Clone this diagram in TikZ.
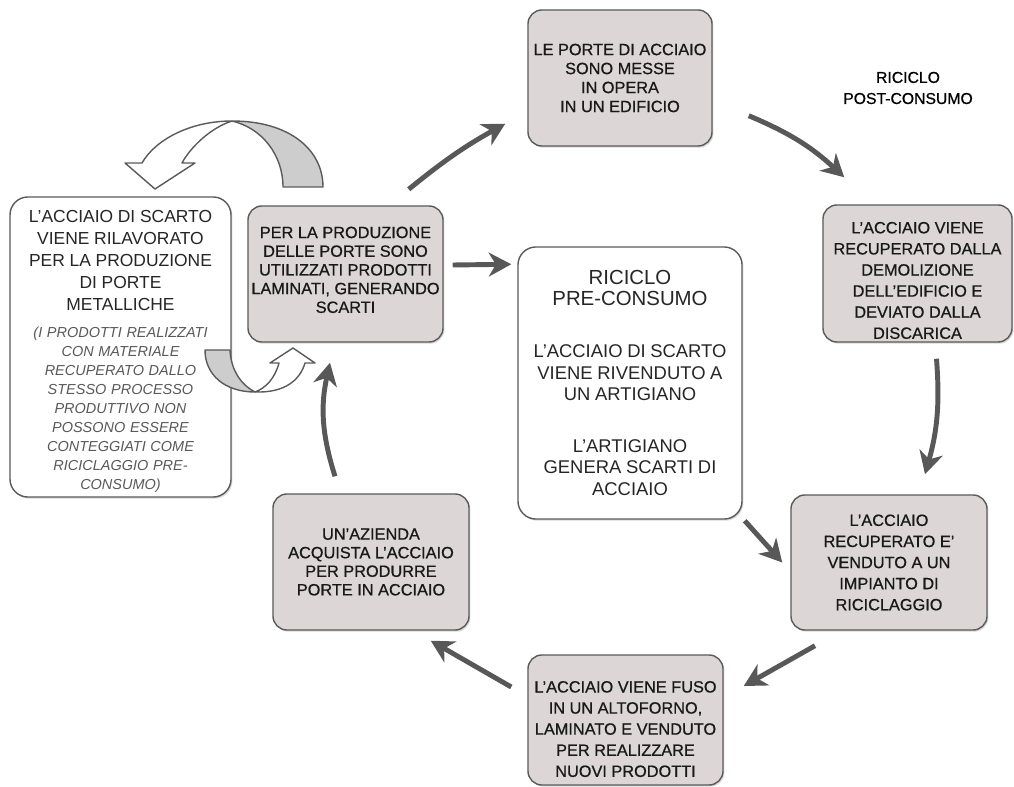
\documentclass[tikz,border=0pt]{standalone}
\usepackage{fontspec}
\setmainfont{Liberation Sans}
\newfontfamily\stepfont{Liberation Sans}[FakeBold=0.7]
\newcommand{\stepsize}[2]{\stepfont\fontsize{#1}{#2}\selectfont}
\usetikzlibrary{arrows.meta, calc, shadows}
\definecolor{boxgray}{RGB}{220,214,214}
\definecolor{edgegray}{RGB}{90,90,90}
\definecolor{arrowgray}{RGB}{88,88,88}
\definecolor{bandgray}{RGB}{205,205,205}

\begin{document}
\begin{tikzpicture}[x=0.025cm, y=-0.025cm,
    stepbox/.style={draw=edgegray, line width=1pt, fill=boxgray, rounded corners=0.35cm,
      inner sep=0pt, align=center, text=black!90,
      drop shadow={shadow xshift=1pt, shadow yshift=-1.2pt, opacity=0.3}},
    notebox/.style={draw=edgegray, line width=1pt, fill=white, rounded corners=0.45cm,
      inner sep=0pt, align=center, text=black!85,
      drop shadow={shadow xshift=1pt, shadow yshift=-1.2pt, opacity=0.3}},
    flow/.style={draw=arrowgray, line width=3.5pt, -{Stealth[length=16pt, width=17pt, inset=5pt]}},
    band/.style={draw=edgegray, line width=1pt, line join=round}]
    \useasboundingbox (0,0) rectangle (1014,787);

    % Cycle boxes
    \node[stepbox, minimum width=4.6cm, minimum height=3.4cm, font=\stepsize{11.6}{13.5}]
      (porte) at (620,78) {LE PORTE DI ACCIAIO\\SONO MESSE\\IN OPERA\\IN UN EDIFICIO};
    \node[stepbox, minimum width=4.725cm, minimum height=3.425cm, font=\stepsize{11.6}{15}]
      (demol) at (917.5,273.5) {\rule{0pt}{18pt}L’ACCIAIO VIENE\\RECUPERATO DALLA\\DEMOLIZIONE\\DELL’EDIFICIO E\\DEVIATO DALLA\\DISCARICA};
    \node[stepbox, minimum width=4.9cm, minimum height=3.375cm, font=\stepsize{11.6}{15}]
      (impianto) at (889,562.5) {L’ACCIAIO\\RECUPERATO E’\\VENDUTO A UN\\IMPIANTO DI\\RICICLAGGIO};
    \node[stepbox, minimum width=4.875cm, minimum height=3.25cm, font=\stepsize{11.6}{15}]
      (fuso) at (625.5,720) {\rule{0pt}{21pt}L’ACCIAIO VIENE FUSO\\IN UN ALTOFORNO,\\LAMINATO E VENDUTO\\PER REALIZZARE\\NUOVI PRODOTTI};
    \node[stepbox, minimum width=4.9cm, minimum height=3.4cm, font=\stepsize{11.6}{13.2}]
      (azienda) at (371,562) {UN’AZIENDA\\ACQUISTA L’ACCIAIO\\PER PRODURRE\\PORTE IN ACCIAIO};
    \node[stepbox, minimum width=4.875cm, minimum height=3.4cm, font=\stepsize{11.6}{13.3}]
      (prod) at (345.5,274) {PER LA PRODUZIONE\\DELLE PORTE SONO\\UTILIZZATI PRODOTTI\\LAMINATI, GENERANDO\\SCARTI\rule[-6pt]{0pt}{0pt}};

    % White boxes
    \node[notebox, minimum width=5.525cm, minimum height=7.5cm, text width=5.4cm] (scarto) at (120.5,347)
      {\fontsize{12.4}{15.6}\selectfont\rule{0pt}{15pt}L’ACCIAIO DI SCARTO\\VIENE RILAVORATO\\PER LA PRODUZIONE\\DI PORTE\\METALLICHE\par
       \vspace{5.5pt}
       \fontsize{10.3}{13.5}\selectfont\itshape\color{black!65}(I PRODOTTI REALIZZATI\\CON MATERIALE\\RECUPERATO DALLO\\STESSO PROCESSO\\PRODUTTIVO NON\\POSSONO ESSERE\\CONTEGGIATI COME\\RICICLAGGIO PRE-\\CONSUMO)\par};
    \node[notebox, minimum width=5.6cm, minimum height=6.8cm, text width=5.4cm] (pre) at (630,383)
      {\fontsize{14.5}{15}\selectfont RICICLO\\PRE-CONSUMO\par
       \vspace{21.7pt}
       \fontsize{13.1}{15.3}\selectfont L’ACCIAIO DI SCARTO\\VIENE RIVENDUTO A\\UN ARTIGIANO\par
       \vspace{21.5pt}
       L’ARTIGIANO\\GENERA SCARTI DI\\ACCIAIO\par};

    \node[align=center, font=\stepsize{11.2}{15}] (post) at (908,88) {RICICLO\\POST-CONSUMO};

    % Cycle arrows
    \draw[flow] ($(prod.north east)+(-35,-16)$) to[bend left=5] ($(porte.south west)+(-22,-23)$);
    \draw[flow] ($(porte.south east)+(36,-31)$) to[bend left=10] ($(demol.north west)+(22,-27)$);
    \draw[flow] ($(demol.south)+(19,16)$) to[bend left=10] ($(impianto.north)+(36,-20)$);
    \draw[flow] ($(pre.south east)+(2,1)$) -- ($(impianto.west)+(-8,0)$);
    \draw[flow] ($(impianto.south)+(-74,15)$) -- ($(fuso.east)+(20,-34)$);
    \draw[flow] ($(fuso.west)+(-16,-33)$) -- ($(azienda.south east)+(-39,10)$);
    \draw[flow] ($(azienda.north)+(-36,-17)$) to[bend left=15] ($(prod.south)+(-15.5,20)$);
    \draw[flow] ($(prod.east)+(9,-9)$) -- ($(pre.north west)+(-6,18)$);

    % Curved block arrows
    \filldraw[band, fill=bandgray] (232,121) .. controls (290,121) and (323,150) .. (323,187)
      -- (283,187) .. controls (283,155) and (262,128) .. (232,121) -- cycle;
    \filldraw[band, fill=white] (232,121) .. controls (190,121) and (155,140) .. (142,163)
      -- (125,163) -- (155,189) -- (195,163) -- (182,163)
      .. controls (190,148) and (210,128) .. (232,121) -- cycle;
    \filldraw[band, fill=bandgray] (205,350) .. controls (205,375) and (225,392) .. (255,392)
      .. controls (243,386) and (231,372) .. (230,350) -- cycle;
    \filldraw[band, fill=white] (255,392) .. controls (285,393) and (300,380) .. (305,363)
      -- (315,363) -- (293,348) -- (270,363) -- (279,363)
      .. controls (275,378) and (266,388) .. (255,392) -- cycle;
\end{tikzpicture}
\end{document}
